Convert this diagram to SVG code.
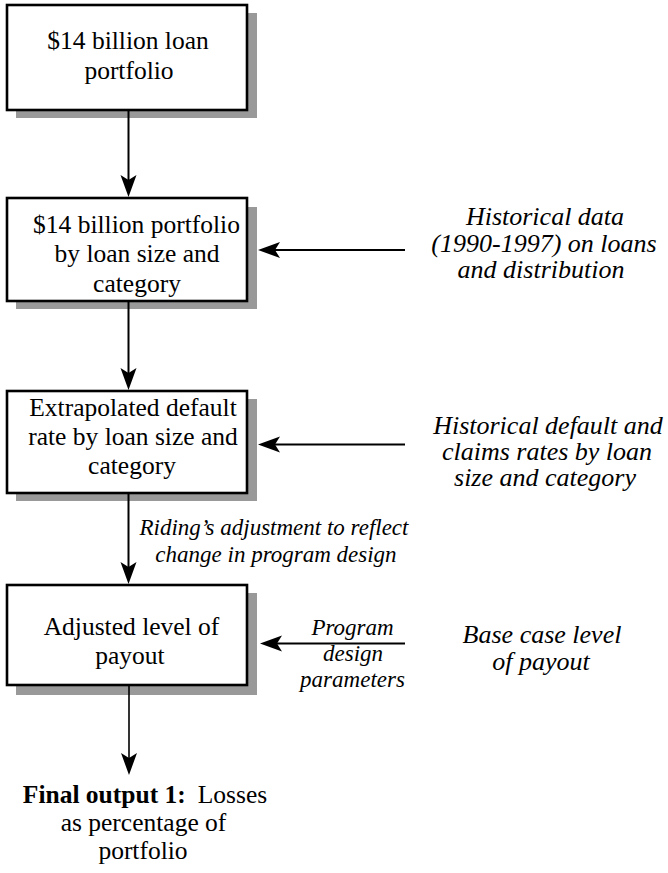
<svg xmlns="http://www.w3.org/2000/svg" width="668" height="873" viewBox="0 0 668 873">
<defs>
<marker id="ah" viewBox="-24 -10 26 20" refX="-17" refY="0" markerWidth="26" markerHeight="20" markerUnits="userSpaceOnUse" orient="auto">
<path d="M0,0 L-22,-8 L-17,0 L-22,8 Z" fill="#000"/>
</marker>
</defs>
<g id="n1" font-family="Liberation Serif" font-size="25.5" text-anchor="middle">
<rect x="16" y="13" width="241" height="105" fill="#999999"/>
<rect x="7" y="5" width="240" height="105" fill="#ffffff" stroke="#000" stroke-width="2.6"/>
<text x="128" y="49">$14 billion loan</text>
<text x="129" y="79">portfolio</text>
</g>
<g id="n2" font-family="Liberation Serif" font-size="25.5" text-anchor="middle">
<rect x="16" y="207" width="241" height="102" fill="#999999"/>
<rect x="7" y="198" width="240" height="103" fill="#ffffff" stroke="#000" stroke-width="2.6"/>
<text x="136.5" y="233">$14 billion portfolio</text>
<text x="137" y="262">by loan size and</text>
<text x="137" y="292">category</text>
</g>
<g id="n3" font-family="Liberation Serif" font-size="25.5" text-anchor="middle">
<rect x="16" y="399" width="241" height="102" fill="#999999"/>
<rect x="7" y="391" width="240" height="102" fill="#ffffff" stroke="#000" stroke-width="2.6"/>
<text x="133" y="416">Extrapolated default</text>
<text x="133" y="445">rate by loan size and</text>
<text x="132" y="474">category</text>
</g>
<g id="n4" font-family="Liberation Serif" font-size="25.5" text-anchor="middle">
<rect x="16" y="593" width="241" height="102" fill="#999999"/>
<rect x="7" y="585" width="240" height="100" fill="#ffffff" stroke="#000" stroke-width="2.6"/>
<text x="131.5" y="635">Adjusted level of</text>
<text x="130" y="664">payout</text>
</g>
<g id="n5" font-family="Liberation Serif" font-size="25.5" text-anchor="middle">
<text x="145" y="803"><tspan font-weight="bold">Final output 1:</tspan><tspan dx="12">Losses</tspan></text>
<text x="143.5" y="831">as percentage of</text>
<text x="143" y="859">portfolio</text>
</g>
<g id="n6" font-family="Liberation Serif" font-size="26" font-style="italic" text-anchor="middle">
<text x="545" y="225">Historical data</text>
<text x="544" y="252">(1990-1997) on loans</text>
<text x="541" y="278">and distribution</text>
</g>
<g id="n7" font-family="Liberation Serif" font-size="26" font-style="italic" text-anchor="middle">
<text x="548" y="434">Historical default and</text>
<text x="547" y="460">claims rates by loan</text>
<text x="545" y="486">size and category</text>
</g>
<g id="n8" font-family="Liberation Serif" font-size="26" font-style="italic" text-anchor="middle">
<text x="542" y="643">Base case level</text>
<text x="541" y="670">of payout</text>
</g>
<g id="connectors" stroke="#000" stroke-width="2" fill="none">
<line x1="128.5" y1="111" x2="128.5" y2="180" marker-end="url(#ah)"/>
<line x1="128.5" y1="302" x2="128.5" y2="373" marker-end="url(#ah)"/>
<line x1="128.5" y1="494" x2="128.5" y2="567" marker-end="url(#ah)"/>
<line x1="129" y1="686" x2="129" y2="758" stroke-width="1.6" marker-end="url(#ah)"/>
<line x1="405" y1="250" x2="275" y2="250" marker-end="url(#ah)"/>
<line x1="405" y1="444.5" x2="275" y2="444.5" marker-end="url(#ah)"/>
<line x1="405" y1="643.5" x2="277" y2="643.5" marker-end="url(#ah)"/>
<g font-family="Liberation Serif" font-size="23" font-style="italic" text-anchor="middle" fill="#000" stroke="none">
<text x="274" y="535">Riding’s adjustment to reflect</text>
<text x="276" y="562">change in program design</text>
<text x="352.5" y="635">Program</text>
<text x="353" y="661">design</text>
<text x="352.5" y="687">parameters</text>
</g>
</g>
</svg>
